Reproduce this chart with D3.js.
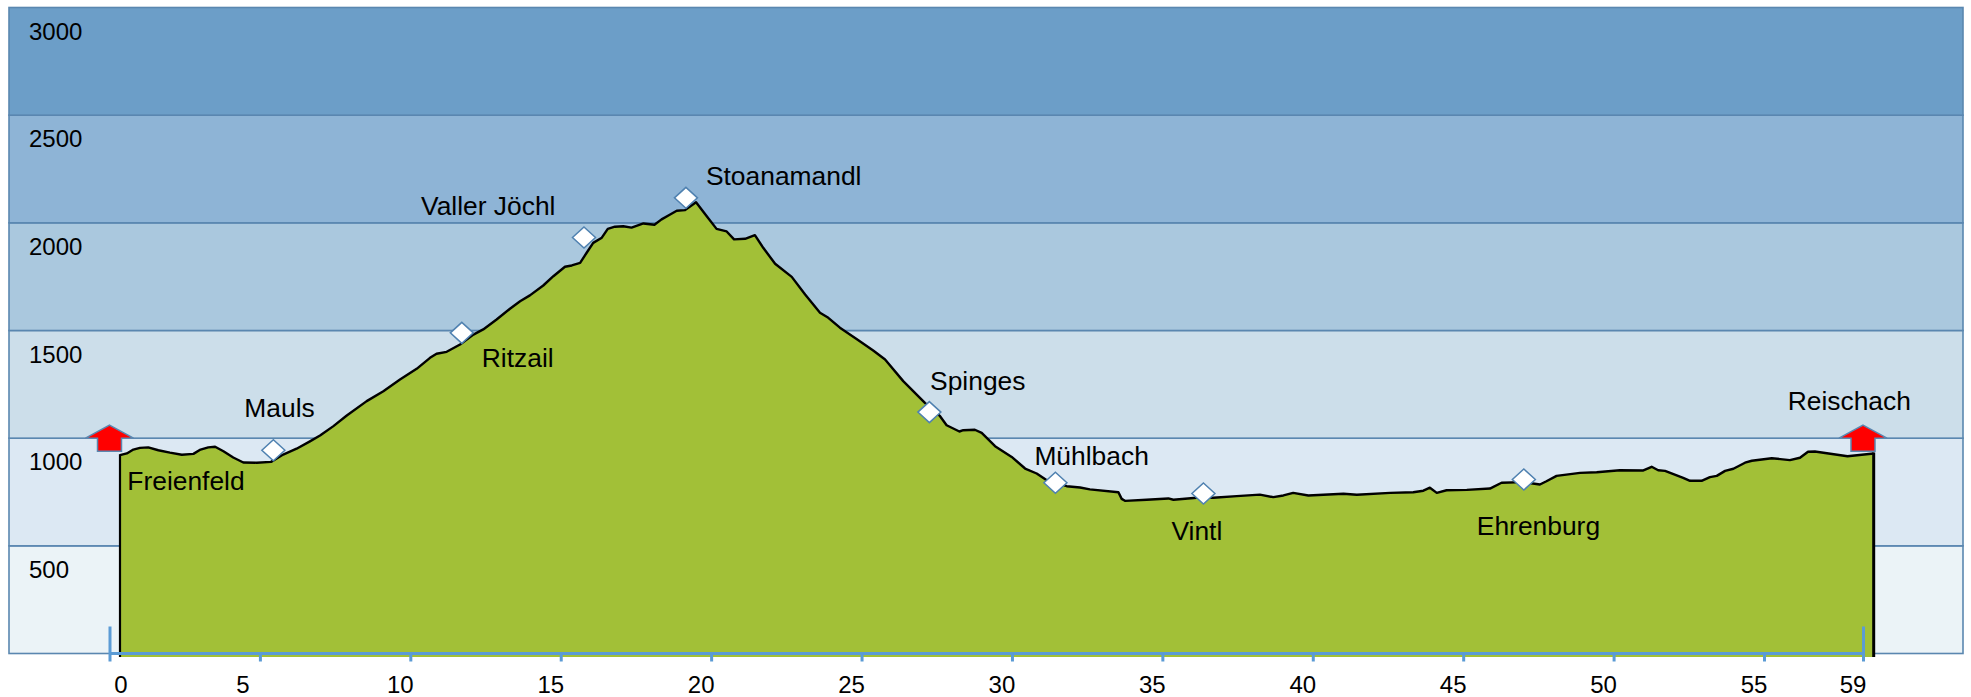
<!DOCTYPE html>
<html>
<head>
<meta charset="utf-8">
<script src="https://cdn.jsdelivr.net/npm/d3@7"></script>
<style>
    body { margin: 0; background: #fff; }
    svg { display: block; }
    text { font-family: "Liberation Sans", Arial, sans-serif; fill: #000; }
    .place { font-size: 26.4px; }
    .tick text { font-size: 24px; }
</style>
</head>
<body>
<svg width="1971" height="697"></svg>
<script>
var distances = [0,0.23,0.45,0.67,0.95,1.29,1.68,2.08,2.47,2.71,2.97,3.2,3.48,3.81,4.15,4.6,5.08,5.49,5.94,6.39,
    6.73,7.18,7.63,8.3,8.86,9.42,9.98,10.43,10.65,10.99,11.44,11.89,12.22,12.67,13.12,13.46,13.79,14.24,14.58,14.97,
    15.2,15.48,15.7,15.92,16.21,16.41,16.65,16.93,17.21,17.61,17.98,18.22,18.45,18.73,19.01,19.38,19.74,20.07,20.41,20.66,
    21.03,21.36,21.64,22.04,22.6,23.05,23.55,23.83,24.22,24.78,25.34,25.74,26.35,27.08,27.59,27.81,28.24,28.37,28.76,28.99,
    29.44,30,30.45,30.84,31.18,31.85,32.3,32.63,33.59,33.7,33.81,34.54,35.27,35.44,36.22,36.78,37.57,38.35,38.8,39.14,
    39.47,39.98,41.16,41.61,42.73,43.51,43.85,44.07,44.3,44.63,45.31,46.09,46.48,47.21,47.77,47.99,48.33,49.12,49.68,50.46,
    51.25,51.53,51.75,51.98,52.59,52.82,53.21,53.49,53.72,54,54.28,54.67,54.9,55.57,56.18,56.52,56.79,57.02,58.12,59];

var elevations = [921,929,947,955,957,944,933,923,927,947,957,960,939,910,887,886,890,924,951,985,
    1012,1056,1105,1172,1218,1272,1322,1373,1392,1401,1435,1481,1505,1551,1601,1636,1663,1709,1752,1796,
    1802,1814,1861,1907,1931,1972,1982,1984,1978,1997,1991,2016,2034,2056,2059,2096,2031,1972,1960,1923,
    1926,1943,1884,1810,1749,1667,1582,1559,1513,1461,1407,1365,1265,1164,1102,1060,1031,1037,1039,1025,
    963,913,859,836,805,777,771,762,749,718,709,714,720,714,723,723,731,738,726,734,
    746,734,742,737,746,749,756,770,746,758,760,766,793,796,785,800,825,839,842,851,
    850,867,851,848,816,802,802,819,825,848,858,886,895,907,898,909,937,938,916,929];

var placeNames = ['Mauls','Ritzail','Valler Jöchl','Stoanamandl','Spinges','Mühlbach','Vintl','Ehrenburg'];
var placeKms = [5.16,11.5,15.61,19.04,27.23,31.47,36.45,47.23];
var placeElevations = [944,1489,1932,2116,1121,793,743,808];

var startEndNames = ['Freienfeld','Reischach'];
var startEndKms = [0,59];
var startEndElevations = [921,929];

var elevationTicks = [500,1000,1500,2000,2500,3000];
var distanceTicks = [0,5,10,15,20,25,30,35,40,45,50,55,59];
var bandColors = ['#ebf3f7','#dce8f3','#ccdeea','#aac8de','#8eb4d6','#6c9ec8'];

var frameColor = '#5a87b0';
var axisColor = '#5b9bd5';

var svg = d3.select('svg');

var x = d3.scaleLinear().domain([0,59]).range([120,1873.7]);
var y = d3.scaleLinear().domain([0,3000]).range([653.5,7.5]);
// the km ruler is a separate drawing, a bit left of the profile and squeezed after 55
var axisX = d3.scaleLinear().domain([0,55,59]).range([109.5,1764,1863]);

var profile = distances.map(function(d,i){ return [d, elevations[i]]; });

// background bands
svg.append('g')
    .selectAll('rect')
    .data(elevationTicks)
    .enter()
    .append('rect')
    .attr('x', 9)
    .attr('width', 1954)
    .attr('y', function(d){ return y(d); })
    .attr('height', function(d){ return y(d-500)-y(d); })
    .attr('fill', function(d,i){ return bandColors[i]; })
    .attr('stroke', frameColor)
    .attr('stroke-width', 1.6);

// start and end arrows
var arrow = 'M0,-13L24,0L12,0L12,13L-12,13L-12,0L-24,0Z';
svg.append('g')
    .selectAll('path')
    .data(startEndKms)
    .enter()
    .append('path')
    .attr('d', arrow)
    .attr('transform', function(d){ return 'translate('+axisX(d)+','+y(1000)+')'; })
    .attr('fill', '#ff0000')
    .attr('stroke', frameColor)
    .attr('stroke-width', 1.5);

// profile
var baseline = y(0)+3.5;
svg.append('path')
    .datum(profile)
    .attr('fill', '#a2c037')
    .attr('d', d3.area()
        .x(function(d){ return x(d[0]); })
        .y0(baseline)
        .y1(function(d){ return y(d[1]); }));

svg.append('path')
    .datum(profile)
    .attr('fill', 'none')
    .attr('stroke', '#000')
    .attr('stroke-width', 2.4)
    .attr('stroke-linejoin', 'round')
    .attr('d', d3.line()
        .x(function(d){ return x(d[0]); })
        .y(function(d){ return y(d[1]); }));

svg.append('g')
    .selectAll('line')
    .data(startEndKms)
    .enter()
    .append('line')
    .attr('x1', function(d){ return x(d); })
    .attr('x2', function(d){ return x(d); })
    .attr('y1', function(d,i){ return y(startEndElevations[i])-1; })
    .attr('y2', baseline)
    .attr('stroke', '#000')
    .attr('stroke-width', function(d,i){ return i ? 3 : 2.2; });

// elevation labels sit inside their bands
var yAxis = svg.append('g')
    .attr('transform', 'translate(29,0)')
    .call(d3.axisRight(y).tickValues(elevationTicks).tickSize(0).tickPadding(0).tickFormat(d3.format('d')));
yAxis.select('.domain').remove();
yAxis.selectAll('text').attr('dy', 31.5);

// km ruler
var xAxis = svg.append('g')
    .attr('transform', 'translate(0,'+y(0)+')')
    .call(d3.axisBottom(axisX).tickValues(distanceTicks).tickSize(8).tickFormat(d3.format('d')));
xAxis.select('.domain')
    .attr('d', 'M'+axisX(0)+',0H'+axisX(59))
    .attr('stroke', axisColor)
    .attr('stroke-width', 3);
xAxis.selectAll('.tick line')
    .attr('stroke', axisColor)
    .attr('stroke-width', 3)
    .attr('y1', function(d){ return (d===0 || d===59) ? -27 : 0; });
xAxis.selectAll('text')
    .attr('y', 39.5)
    .attr('dy', 0)
    .attr('dx', function(d){
        if (d===0) return 11;
        if (d===5) return -17.5;
        return -10.5;
    });

// waypoints
svg.append('g')
    .selectAll('path')
    .data(placeKms)
    .enter()
    .append('path')
    .attr('d', 'M0,-10.5L11.5,0L0,10.5L-11.5,0Z')
    .attr('transform', function(d,i){ return 'translate('+x(d)+','+y(placeElevations[i])+')'; })
    .attr('fill', '#fff')
    .attr('stroke', '#4f81b0')
    .attr('stroke-width', 1.5);

var placeOffsets = [[-29,-33],[20,33.7],[-163,-22.7],[20,-12.6],[0.7,-22],[-21,-18],[-32,46],[-47,55.5]];
svg.append('g')
    .selectAll('text')
    .data(placeNames)
    .enter()
    .append('text')
    .attr('class', 'place')
    .attr('x', function(d,i){ return x(placeKms[i])+placeOffsets[i][0]; })
    .attr('y', function(d,i){ return y(placeElevations[i])+placeOffsets[i][1]; })
    .text(function(d){ return d; });

var startEndOffsets = [[7.3,34.7],[-86,-43]];
svg.append('g')
    .selectAll('text')
    .data(startEndNames)
    .enter()
    .append('text')
    .attr('class', 'place')
    .attr('x', function(d,i){ return x(startEndKms[i])+startEndOffsets[i][0]; })
    .attr('y', function(d,i){ return y(startEndElevations[i])+startEndOffsets[i][1]; })
    .text(function(d){ return d; });
</script>
</body>
</html>
